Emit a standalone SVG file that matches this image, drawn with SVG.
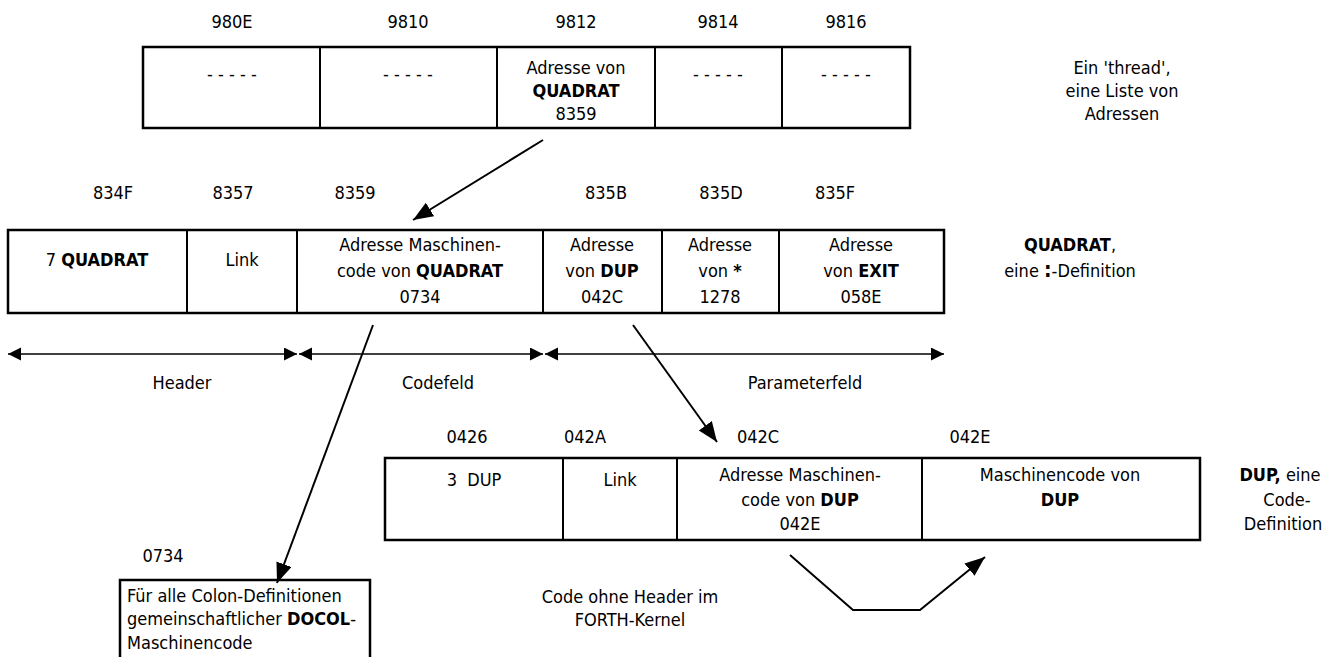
<svg xmlns="http://www.w3.org/2000/svg" width="1329" height="657" viewBox="0 0 1329 657">
<style>
text{font-family:"DejaVu Sans Condensed","DejaVu Sans","Verdana",sans-serif;font-stretch:condensed;font-size:18px;fill:#000}
.c{text-anchor:middle}
.b{font-weight:bold}
.big{font-size:21px}
.box{fill:#fff;stroke:#000;stroke-width:2.5}
.div{stroke:#000;stroke-width:2}
.con{stroke:#000;stroke-width:2;fill:none}
.dim{stroke:#000;stroke-width:1.5;fill:none}
</style>
<defs>
<marker id="ah" markerUnits="userSpaceOnUse" markerWidth="22" markerHeight="18" refX="20" refY="8" orient="auto"><path d="M0,0 L20,8 L0,16 z" fill="#000"/></marker>
<marker id="dh" markerUnits="userSpaceOnUse" markerWidth="16" markerHeight="14" refX="13" refY="6.5" orient="auto-start-reverse"><path d="M0,0 L13,6.5 L0,13 z" fill="#000"/></marker>
</defs>

<g id="thread">
<text class="c" x="232" y="28">980E</text>
<text class="c" x="408" y="28">9810</text>
<text class="c" x="576" y="28">9812</text>
<text class="c" x="718" y="28">9814</text>
<text class="c" x="846" y="28">9816</text>
<rect class="box" x="143" y="47" width="767" height="81"/>
<line class="div" x1="320" y1="47" x2="320" y2="128"/>
<line class="div" x1="497" y1="47" x2="497" y2="128"/>
<line class="div" x1="655" y1="47" x2="655" y2="128"/>
<line class="div" x1="782" y1="47" x2="782" y2="128"/>
<text class="c" x="232" y="80">- - - - -</text>
<text class="c" x="408" y="80">- - - - -</text>
<text class="c" x="576" y="74">Adresse von</text>
<text class="c b" x="576" y="97">QUADRAT</text>
<text class="c" x="576" y="120">8359</text>
<text class="c" x="718" y="80">- - - - -</text>
<text class="c" x="846" y="80">- - - - -</text>
<text class="c" x="1122" y="74">Ein 'thread',</text>
<text class="c" x="1122" y="97">eine Liste von</text>
<text class="c" x="1122" y="120">Adressen</text>
</g>

<g id="quadrat">
<text class="c" x="113" y="199">834F</text>
<text class="c" x="233" y="199">8357</text>
<text class="c" x="355" y="199">8359</text>
<text class="c" x="606" y="199">835B</text>
<text class="c" x="721" y="199">835D</text>
<text class="c" x="835" y="199">835F</text>
<rect class="box" x="8" y="230" width="936" height="83"/>
<line class="div" x1="187" y1="230" x2="187" y2="313"/>
<line class="div" x1="297" y1="230" x2="297" y2="313"/>
<line class="div" x1="543" y1="230" x2="543" y2="313"/>
<line class="div" x1="662" y1="230" x2="662" y2="313"/>
<line class="div" x1="779" y1="230" x2="779" y2="313"/>
<text class="c" x="97" y="266">7 <tspan class="b">QUADRAT</tspan></text>
<text class="c" x="242" y="266">Link</text>
<text class="c" x="420" y="251">Adresse Maschinen-</text>
<text class="c" x="420" y="277">code von <tspan class="b">QUADRAT</tspan></text>
<text class="c" x="420" y="303">0734</text>
<text class="c" x="602" y="251">Adresse</text>
<text class="c" x="602" y="277">von <tspan class="b">DUP</tspan></text>
<text class="c" x="602" y="303">042C</text>
<text class="c" x="720" y="251">Adresse</text>
<text class="c" x="720" y="277">von <tspan class="b">*</tspan></text>
<text class="c" x="720" y="303">1278</text>
<text class="c" x="861" y="251">Adresse</text>
<text class="c" x="861" y="277">von <tspan class="b">EXIT</tspan></text>
<text class="c" x="861" y="303">058E</text>
<text class="c" x="1070" y="251"><tspan class="b">QUADRAT</tspan>,</text>
<text class="c" x="1070" y="277">eine <tspan class="b big">:</tspan>-Definition</text>
</g>

<g id="fields">
<text class="c" x="182" y="389">Header</text>
<text class="c" x="438" y="389">Codefeld</text>
<text class="c" x="805" y="389">Parameterfeld</text>
</g>

<g id="dup">
<text class="c" x="467" y="443">0426</text>
<text class="c" x="585" y="443">042A</text>
<text class="c" x="758" y="443">042C</text>
<text class="c" x="970" y="443">042E</text>
<rect class="box" x="385" y="458" width="815" height="82"/>
<line class="div" x1="563" y1="458" x2="563" y2="540"/>
<line class="div" x1="677" y1="458" x2="677" y2="540"/>
<line class="div" x1="922" y1="458" x2="922" y2="540"/>
<text class="c" x="474" y="486" xml:space="preserve">3  DUP</text>
<text class="c" x="620" y="486">Link</text>
<text class="c" x="800" y="481">Adresse Maschinen-</text>
<text class="c" x="800" y="506">code von <tspan class="b">DUP</tspan></text>
<text class="c" x="800" y="530">042E</text>
<text class="c" x="1060" y="481">Maschinencode von</text>
<text class="c b" x="1060" y="506">DUP</text>
<text class="c" x="1280" y="481"><tspan class="b">DUP,</tspan> eine</text>
<text class="c" x="1287" y="506">Code-</text>
<text class="c" x="1283" y="530">Definition</text>
</g>

<g id="docol">
<text class="c" x="163" y="562">0734</text>
<rect class="box" x="120" y="580" width="250" height="120"/>
<text x="127" y="602">Für alle Colon-Definitionen</text>
<text x="127" y="625">gemeinschaftlicher <tspan class="b">DOCOL</tspan>-</text>
<text x="127" y="649">Maschinencode</text>
</g>

<g id="kernel">
<text class="c" x="630" y="603">Code ohne Header im</text>
<text class="c" x="630" y="626">FORTH-Kernel</text>
</g>

<g id="connectors">
<line class="con" x1="543" y1="140" x2="413" y2="220" marker-end="url(#ah)"/>
<line class="con" x1="373" y1="325" x2="277" y2="583" marker-end="url(#ah)"/>
<line class="con" x1="633" y1="325" x2="717" y2="442" marker-end="url(#ah)"/>
<polyline class="con" points="790,555 853,610 920,610 985,557" marker-end="url(#ah)"/>
<line class="dim" x1="8" y1="354" x2="297" y2="354" marker-start="url(#dh)" marker-end="url(#dh)"/>
<line class="dim" x1="299" y1="354" x2="543" y2="354" marker-start="url(#dh)" marker-end="url(#dh)"/>
<line class="dim" x1="545" y1="354" x2="944" y2="354" marker-start="url(#dh)" marker-end="url(#dh)"/>
</g>
</svg>
